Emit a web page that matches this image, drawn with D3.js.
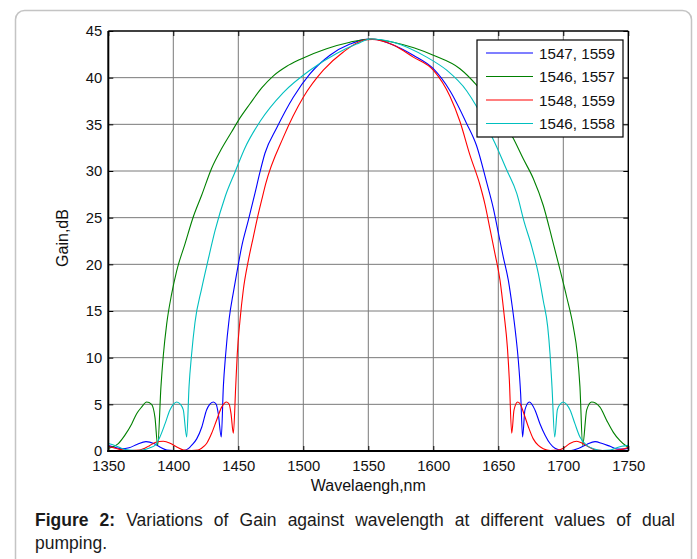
<!DOCTYPE html>
<html>
<head>
<meta charset="utf-8">
<script src="https://cdn.jsdelivr.net/npm/d3@7"></script>
<style>
  body { margin: 0; background: #fff; }
  #wrap { position: relative; width: 697px; height: 559px; overflow: hidden; }
  #caption {
    position: absolute; left: 35px; top: 509px; width: 640px;
    font-family: "Liberation Sans", Arial, sans-serif; font-size: 17.5px;
    line-height: 23px; text-align: justify; color: #1a1a1a;
  }
</style>
</head>
<body>
<div id="wrap">
  <div id="chart"></div>
  <div id="caption"><b>Figure 2:</b> Variations of Gain against wavelength at different values of dual pumping.</div>
</div>
<script>
// tick values
const xTicks = [1350, 1400, 1450, 1500, 1550, 1600, 1650, 1700, 1750];
const yTicks = [0, 5, 10, 15, 20, 25, 30, 35, 40, 45];

// series labels (pump wavelengths) and colours
const seriesNames = ["1547, 1559", "1546, 1557", "1548, 1559", "1546, 1558"];
const seriesColors = ["#0000ff", "#008000", "#ff0000", "#00bfbf"];

// 1547, 1559 (blue)
const blueWl = [1350, 1355, 1360, 1366, 1372, 1379, 1385, 1390, 1395, 1400, 1408, 1412, 1414, 1418, 1422, 1425.6, 1428, 1430.8, 1433, 1434.6, 1436.9, 1438.5, 1440.3, 1443, 1446.2, 1449, 1452.6, 1457.7, 1462.8, 1466.7, 1470.5, 1479.5, 1492.3, 1505.1, 1520.5, 1535.9, 1548.7, 1555, 1569.2, 1584.6, 1600, 1612.8, 1625.6, 1633.3, 1641, 1646.2, 1650, 1653.8, 1657.7, 1660.8, 1663.3, 1665.4, 1667.2, 1668.7, 1670.5, 1673.9, 1678.2, 1682.1, 1686, 1689.8, 1693.6, 1700, 1706, 1712, 1718, 1724.4, 1730, 1736, 1742, 1746, 1750];
const blueGain = [0.6, 0.4, 0.25, 0.35, 0.7, 1.0, 0.8, 0.4, 0.1, 0.05, 0.05, 0.3, 0.6, 1.3, 2.6, 4.4, 5.0, 5.25, 5.0, 4.0, 1.5, 6.9, 10.4, 14.2, 17.0, 19.2, 21.9, 24.7, 27.6, 29.9, 31.9, 34.6, 37.9, 40.4, 42.4, 43.6, 44.1, 44.1, 43.5, 42.4, 40.96, 38.6, 35.1, 32.7, 28.8, 26, 23.4, 20.8, 18.3, 15.4, 12.6, 9.7, 6.1, 1.5, 4.4, 5.25, 4.4, 2.9, 1.7, 0.8, 0.3, 0.05, 0.05, 0.3, 0.7, 1.0, 0.8, 0.5, 0.2, 0.2, 0.3];

// 1546, 1557 (green)
const greenWl = [1350, 1352.6, 1357.7, 1362.8, 1368, 1371.8, 1375.6, 1379.5, 1383.3, 1385.9, 1388, 1390.5, 1392.3, 1394.9, 1398.7, 1402.6, 1409, 1415.4, 1421.8, 1429.5, 1437.2, 1444.9, 1450, 1459, 1468, 1477, 1487, 1497.4, 1517.9, 1535.9, 1552, 1569.2, 1585, 1600, 1620.5, 1633.3, 1645, 1661.5, 1669.2, 1676.9, 1684.6, 1691.1, 1697.5, 1702.6, 1707.7, 1710.8, 1712.8, 1714.9, 1718, 1721.8, 1728.2, 1733.3, 1738.5, 1743.6, 1748.7, 1750];
const greenGain = [0.3, 0.4, 0.8, 1.7, 2.9, 4.0, 4.7, 5.25, 5.0, 3.6, 0.6, 6.9, 10.2, 13.6, 16.8, 19.3, 22.2, 25.1, 27.4, 30.3, 32.4, 34.2, 35.4, 37.2, 38.9, 40.2, 41.2, 41.95, 43.1, 43.8, 44.15, 43.8, 43.2, 42.4, 40.96, 39.2, 37.1, 33.5, 31.3, 29.2, 26.3, 22.9, 19.4, 16.5, 13.3, 10.4, 6.9, 0.6, 4.4, 5.25, 4.7, 3.3, 2.0, 1.1, 0.5, 0.4];

// 1548, 1559 (red)
const redWl = [1350, 1354, 1358, 1363, 1368, 1374, 1378, 1382, 1386, 1392.3, 1398, 1403, 1408, 1414, 1419, 1421.8, 1425.6, 1429.5, 1433.3, 1437.2, 1441, 1443, 1444.4, 1446.2, 1448, 1449.2, 1451.3, 1453.8, 1457.7, 1461.5, 1465.4, 1468, 1471, 1484.6, 1500, 1515.4, 1530.8, 1546.2, 1553, 1569.2, 1584.6, 1600, 1612.8, 1620.5, 1628.2, 1635.9, 1639.8, 1643.6, 1647.5, 1651.3, 1654.4, 1657, 1658.5, 1660.3, 1662.1, 1664.9, 1667, 1668.7, 1673.1, 1676.9, 1680.8, 1684.6, 1690, 1696, 1700, 1705, 1710.3, 1715, 1720, 1725, 1730, 1736, 1742, 1746, 1750];
const redGain = [0.5, 0.35, 0.2, 0.08, 0.05, 0.1, 0.3, 0.6, 0.9, 1.05, 0.8, 0.4, 0.1, 0.05, 0.1, 0.3, 0.8, 1.9, 3.3, 4.7, 5.25, 5.0, 4.0, 1.9, 6.9, 10.4, 14, 17.2, 20.4, 22.9, 25.4, 26.9, 28.6, 33.6, 37.9, 40.8, 42.75, 44.0, 44.1, 43.5, 42.2, 40.8, 38, 35.3, 31.7, 28.5, 26.4, 23.8, 21.1, 18.3, 14.7, 11.1, 7.6, 1.9, 4.4, 5.25, 5.0, 4.4, 2.6, 1.3, 0.6, 0.25, 0.05, 0.1, 0.3, 0.8, 1.05, 0.8, 0.4, 0.1, 0.05, 0.05, 0.1, 0.2, 0.4];

// 1546, 1558 (cyan)
const cyanWl = [1350, 1355, 1360, 1366, 1372, 1378, 1382, 1385.9, 1389.7, 1393.6, 1397.4, 1400, 1402.6, 1405.5, 1407.7, 1410.3, 1412.1, 1414.1, 1416.7, 1421.8, 1427, 1432.1, 1440, 1447.5, 1455.2, 1466.7, 1484.6, 1505.1, 1525.6, 1541, 1552, 1569.2, 1594.9, 1610.3, 1625.6, 1633.3, 1641, 1648.7, 1656.5, 1664.2, 1670, 1675.7, 1680.8, 1684.6, 1688, 1689.8, 1691.3, 1693.4, 1695.4, 1697.5, 1700, 1702.5, 1705.2, 1709, 1712.8, 1718, 1723.1, 1730, 1736, 1740, 1745, 1750];
const cyanGain = [0.8, 0.6, 0.3, 0.1, 0.05, 0.15, 0.35, 0.6, 1.5, 2.9, 4.4, 5.0, 5.25, 5.0, 4.4, 1.5, 6.9, 10.4, 13.8, 17.4, 20.6, 23.6, 27.3, 29.9, 32.5, 35.3, 38.4, 40.8, 42.6, 43.6, 44.15, 43.8, 42.2, 40.8, 38.6, 36.9, 34.8, 32.6, 30.1, 27.6, 24.5, 21.9, 19, 16.1, 13.3, 10.4, 6.9, 1.5, 4.4, 5.0, 5.25, 5.0, 4.4, 2.9, 1.5, 0.6, 0.25, 0.05, 0.1, 0.3, 0.5, 0.6];

const seriesWl = [blueWl, greenWl, redWl, cyanWl];
const seriesGain = [blueGain, greenGain, redGain, cyanGain];

const W = 697, H = 559;
const margin = { left: 108.3, right: 68.7, top: 31, bottom: 108 };
const font = '"Liberation Sans", Arial, sans-serif';

const svg = d3.select("#chart").append("svg")
    .attr("width", W)
    .attr("height", H)
    .style("position", "absolute")
    .style("left", 0)
    .style("top", 0);

// outer rounded frame
svg.append("rect")
    .attr("x", 15.5).attr("y", 10.5)
    .attr("width", 676).attr("height", 580)
    .attr("rx", 9)
    .style("fill", "none")
    .style("stroke", "#c4c4c4")
    .style("stroke-width", 1.5);

const x = d3.scaleLinear().domain([1350, 1750]).range([margin.left, W - margin.right]);
const y = d3.scaleLinear().domain([0, 45]).range([H - margin.bottom, margin.top]);

const x0 = x.range()[0], x1 = x.range()[1];
const y0 = y.range()[0], y1 = y.range()[1];

// grid
svg.append("g").selectAll("line")
    .data(xTicks.slice(1, -1))
    .join("line")
    .attr("x1", d => x(d)).attr("x2", d => x(d))
    .attr("y1", y1).attr("y2", y0)
    .style("stroke", "#7a7a7a").style("stroke-width", 1);

svg.append("g").selectAll("line")
    .data(yTicks.slice(1, -1))
    .join("line")
    .attr("x1", x0).attr("x2", x1)
    .attr("y1", d => y(d)).attr("y2", d => y(d))
    .style("stroke", "#7a7a7a").style("stroke-width", 1);

// curves
const line = d3.line()
    .x(d => x(d[0]))
    .y(d => y(d[1]))
    .curve(d3.curveMonotoneX);

const curves = svg.append("g");
seriesWl.forEach((wl, i) => {
    const pts = wl.map((w, j) => [w, seriesGain[i][j]]);
    curves.append("path")
        .datum(pts)
        .attr("d", line)
        .style("fill", "none")
        .style("stroke", seriesColors[i])
        .style("stroke-width", 1.1);
});

// axes (Matlab style: ticks inward, box)
svg.append("g")
    .attr("transform", `translate(0,${y0})`)
    .call(d3.axisBottom(x).tickValues(xTicks).tickSize(-5).tickPadding(9).tickFormat(d3.format("d")))
    .call(g => g.select(".domain").remove())
    .call(g => g.selectAll("text").style("font-family", font).style("font-size", "14.8px").style("fill", "#111"));

svg.append("g")
    .attr("transform", `translate(${x0},0)`)
    .call(d3.axisLeft(y).tickValues(yTicks).tickSize(-5).tickPadding(6))
    .call(g => g.select(".domain").remove())
    .call(g => g.selectAll("text").style("font-family", font).style("font-size", "14.8px").style("fill", "#111"));

svg.append("g")
    .attr("transform", `translate(0,${y1})`)
    .call(d3.axisTop(x).tickValues(xTicks).tickSize(-5).tickFormat(""))
    .call(g => g.select(".domain").remove());

svg.append("g")
    .attr("transform", `translate(${x1},0)`)
    .call(d3.axisRight(y).tickValues(yTicks).tickSize(-5).tickFormat(""))
    .call(g => g.select(".domain").remove());

// box
svg.append("line").attr("x1", x0).attr("x2", x1).attr("y1", y1).attr("y2", y1).style("stroke", "#000").style("stroke-width", 1.4);
svg.append("line").attr("x1", x1).attr("x2", x1).attr("y1", y1).attr("y2", y0).style("stroke", "#000").style("stroke-width", 1.4);
svg.append("line").attr("x1", x0).attr("x2", x0).attr("y1", y1).attr("y2", y0 + 1).style("stroke", "#000").style("stroke-width", 2);
svg.append("line").attr("x1", x0 - 1).attr("x2", x1).attr("y1", y0).attr("y2", y0).style("stroke", "#000").style("stroke-width", 2);

// axis labels
svg.append("text")
    .attr("x", (x0 + x1) / 2)
    .attr("y", y0 + 40)
    .style("text-anchor", "middle")
    .style("font-family", font)
    .style("font-size", "16px")
    .style("fill", "#111")
    .text("Wavelaengh,nm");

svg.append("text")
    .attr("transform", "rotate(-90)")
    .attr("x", -(y0 + y1) / 2 + 3)
    .attr("y", 68)
    .style("text-anchor", "middle")
    .style("font-family", font)
    .style("font-size", "16px")
    .style("fill", "#111")
    .text("Gain,dB");

// legend
const legend = svg.append("g").attr("transform", "translate(477,40)");
legend.append("rect")
    .attr("width", 146).attr("height", 97)
    .style("fill", "#fff")
    .style("stroke", "#000")
    .style("stroke-width", 1.2);

seriesNames.forEach((name, i) => {
    const row = legend.append("g").attr("transform", `translate(0,${13 + i * 23.5})`);
    row.append("line")
        .attr("x1", 9).attr("x2", 56)
        .style("stroke", seriesColors[i])
        .style("stroke-width", 1.1);
    row.append("text")
        .attr("x", 62).attr("y", 5.5)
        .style("font-family", font)
        .style("font-size", "15.2px")
        .style("fill", "#111")
        .text(name);
});
</script>
</body>
</html>
